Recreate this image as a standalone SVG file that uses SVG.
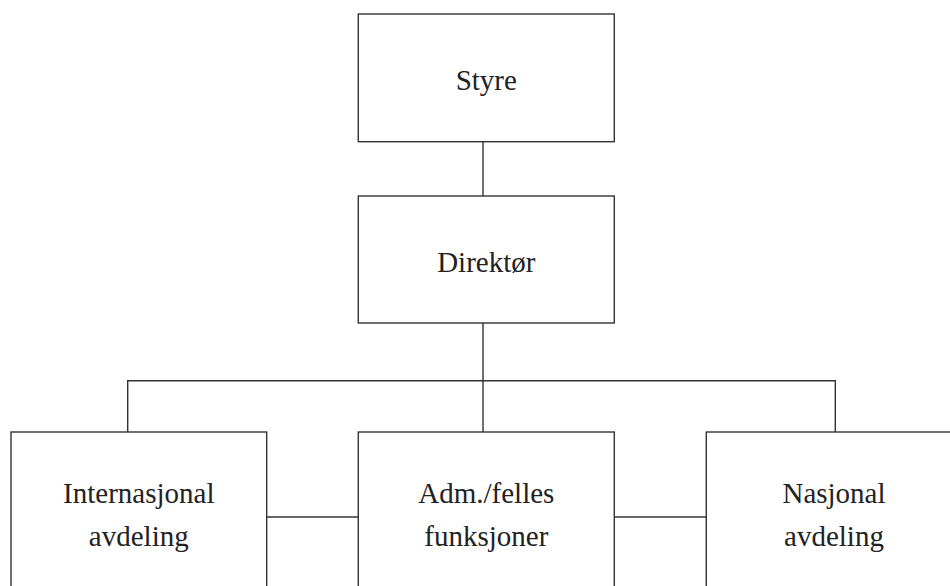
<svg xmlns="http://www.w3.org/2000/svg" width="950" height="586" viewBox="0 0 950 586">
<style>
.box{fill:#fff;stroke:#333;stroke-width:1.4}
.con{fill:none;stroke:#333;stroke-width:1.4}
text{font-family:"Liberation Serif","Times New Roman",serif;font-size:29px;fill:#222;text-anchor:middle}
</style>
<rect width="950" height="586" fill="#fff"/>
<g id="connectors">
<line class="con" x1="483" y1="141.7" x2="483" y2="196"/>
<line class="con" x1="483" y1="323" x2="483" y2="432"/>
<polyline class="con" points="127.7,432 127.7,380.7 835.3,380.7 835.3,432"/>
<line class="con" x1="266.7" y1="517" x2="358.3" y2="517"/>
<line class="con" x1="614.3" y1="517" x2="706.3" y2="517"/>
</g>
<g id="styre">
<rect class="box" x="358.3" y="14" width="256" height="127.7"/>
<text x="486.3" y="90">Styre</text>
</g>
<g id="direktor">
<rect class="box" x="358.3" y="196" width="256" height="127"/>
<text x="486.3" y="271.7">Direktør</text>
</g>
<g id="internasjonal">
<rect class="box" x="11" y="432" width="255.7" height="170"/>
<text x="138.8" y="502.5">Internasjonal</text>
<text x="138.8" y="546">avdeling</text>
</g>
<g id="adm">
<rect class="box" x="358.3" y="432" width="256" height="170"/>
<text x="486.3" y="502.5">Adm./felles</text>
<text x="486.3" y="546">funksjoner</text>
</g>
<g id="nasjonal">
<rect class="box" x="706.3" y="432" width="256" height="170"/>
<text x="834" y="502.5">Nasjonal</text>
<text x="834" y="546">avdeling</text>
</g>
</svg>
